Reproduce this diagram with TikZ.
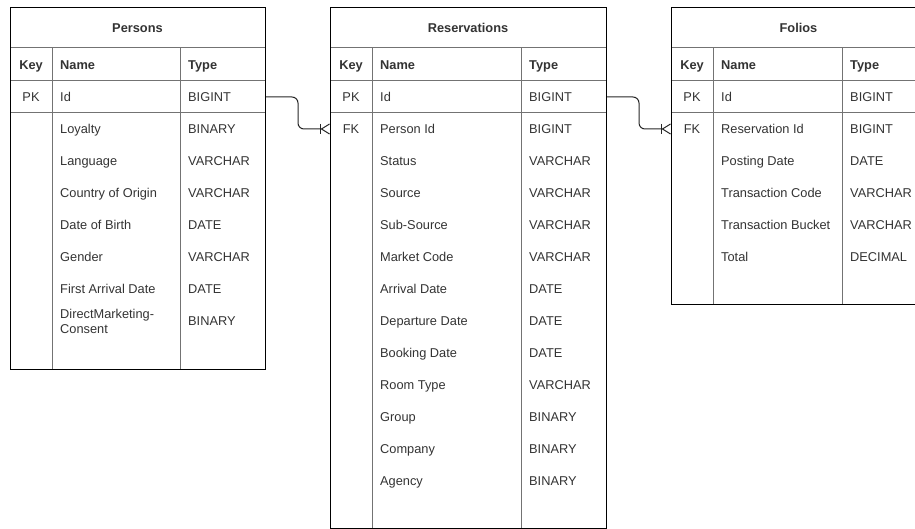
\documentclass[tikz,border=0pt]{standalone}
\usepackage{fontspec}
\setmainfont{Liberation Sans}
\usetikzlibrary{arrows.meta,positioning}

\begin{document}
\begin{tikzpicture}[x=1pt,y=-1pt,font=\fontsize{12.8}{15}\selectfont,
    every node/.style={inner sep=0pt,text=black!80,text height=9.2pt,text depth=0.8pt},
    tbl/.style={draw=black,line width=1pt,anchor=north west,text height=,text depth=},
    rule/.style={draw=black!55,line width=1pt},
    head/.style={font=\fontsize{12.8}{15}\selectfont\bfseries},
    fld/.style={anchor=west},
    fld2/.style={anchor=west,align=left,text height=,text depth=},
    conn/.style={draw=black!85,line width=1pt,rounded corners=6pt,
      -{Bar[width=10pt,sep=0pt] Straight Barb[reversed,length=8pt,width=10pt]}}]
      \path[use as bounding box,clip] (0,0) rectangle (915,529);

      %grid lines
      \draw[rule] (10,48) -- (265,48);
      \draw[rule] (10,81) -- (265,81);
      \draw[rule] (10,113) -- (265,113);
      \draw[rule] (52,48) -- (52,369);
      \draw[rule] (180,48) -- (180,369);

      \draw[rule] (330,48) -- (606,48);
      \draw[rule] (330,81) -- (606,81);
      \draw[rule] (330,113) -- (606,113);
      \draw[rule] (372,48) -- (372,528);
      \draw[rule] (521,48) -- (521,528);

      \draw[rule] (671,48) -- (926,48);
      \draw[rule] (671,81) -- (926,81);
      \draw[rule] (671,113) -- (926,113);
      \draw[rule] (713,48) -- (713,304);
      \draw[rule] (842,48) -- (842,304);

      %tables
      \node[tbl,minimum width=255pt,minimum height=362pt] (persons) at (10,7) {};
      \node[tbl,minimum width=276pt,minimum height=521pt] (reservations) at (330,7) {};
      \node[tbl,minimum width=255pt,minimum height=297pt] (folios) at (671,7) {};

      %Persons
      \node[head] (p-title) at (137.5,28) {Persons};
      \node[head] (p-key) at (31,65) {Key};
      \node[head,fld] (p-name) at (60,65) {Name};
      \node[head,fld] (p-type) at (188,65) {Type};
      \node (p-pk) at (31,97) {PK};
      \node[fld] (p-id) at (60,97) {Id};
      \node[fld] (p-id-t) at (188,97) {BIGINT};
      \node[fld] (p-loyalty) at (60,129) {Loyalty};
      \node[fld] (p-loyalty-t) at (188,129) {BINARY};
      \node[fld] (p-language) at (60,161) {Language};
      \node[fld] (p-language-t) at (188,161) {VARCHAR};
      \node[fld] (p-country) at (60,193) {Country of Origin};
      \node[fld] (p-country-t) at (188,193) {VARCHAR};
      \node[fld] (p-birth) at (60,225) {Date of Birth};
      \node[fld] (p-birth-t) at (188,225) {DATE};
      \node[fld] (p-gender) at (60,257) {Gender};
      \node[fld] (p-gender-t) at (188,257) {VARCHAR};
      \node[fld] (p-arrival) at (60,289) {First Arrival Date};
      \node[fld] (p-arrival-t) at (188,289) {DATE};
      \node[fld2] (p-consent) at (60,321) {DirectMarketing-\\Consent};
      \node[fld] (p-consent-t) at (188,321) {BINARY};

      %Reservations
      \node[head] (r-title) at (468,28) {Reservations};
      \node[head] (r-key) at (351,65) {Key};
      \node[head,fld] (r-name) at (380,65) {Name};
      \node[head,fld] (r-type) at (529,65) {Type};
      \node (r-pk) at (351,97) {PK};
      \node[fld] (r-id) at (380,97) {Id};
      \node[fld] (r-id-t) at (529,97) {BIGINT};
      \node (r-fk) at (351,129) {FK};
      \node[fld] (r-person) at (380,129) {Person Id};
      \node[fld] (r-person-t) at (529,129) {BIGINT};
      \node[fld] (r-status) at (380,161) {Status};
      \node[fld] (r-status-t) at (529,161) {VARCHAR};
      \node[fld] (r-source) at (380,193) {Source};
      \node[fld] (r-source-t) at (529,193) {VARCHAR};
      \node[fld] (r-subsource) at (380,225) {Sub-Source};
      \node[fld] (r-subsource-t) at (529,225) {VARCHAR};
      \node[fld] (r-market) at (380,257) {Market Code};
      \node[fld] (r-market-t) at (529,257) {VARCHAR};
      \node[fld] (r-arrival) at (380,289) {Arrival Date};
      \node[fld] (r-arrival-t) at (529,289) {DATE};
      \node[fld] (r-departure) at (380,321) {Departure Date};
      \node[fld] (r-departure-t) at (529,321) {DATE};
      \node[fld] (r-booking) at (380,353) {Booking Date};
      \node[fld] (r-booking-t) at (529,353) {DATE};
      \node[fld] (r-room) at (380,385) {Room Type};
      \node[fld] (r-room-t) at (529,385) {VARCHAR};
      \node[fld] (r-group) at (380,417) {Group};
      \node[fld] (r-group-t) at (529,417) {BINARY};
      \node[fld] (r-company) at (380,449) {Company};
      \node[fld] (r-company-t) at (529,449) {BINARY};
      \node[fld] (r-agency) at (380,481) {Agency};
      \node[fld] (r-agency-t) at (529,481) {BINARY};

      %Folios
      \node[head] (f-title) at (798.5,28) {Folios};
      \node[head] (f-key) at (692,65) {Key};
      \node[head,fld] (f-name) at (721,65) {Name};
      \node[head,fld] (f-type) at (850,65) {Type};
      \node (f-pk) at (692,97) {PK};
      \node[fld] (f-id) at (721,97) {Id};
      \node[fld] (f-id-t) at (850,97) {BIGINT};
      \node (f-fk) at (692,129) {FK};
      \node[fld] (f-reservation) at (721,129) {Reservation Id};
      \node[fld] (f-reservation-t) at (850,129) {BIGINT};
      \node[fld] (f-posting) at (721,161) {Posting Date};
      \node[fld] (f-posting-t) at (850,161) {DATE};
      \node[fld] (f-code) at (721,193) {Transaction Code};
      \node[fld] (f-code-t) at (850,193) {VARCHAR};
      \node[fld] (f-bucket) at (721,225) {Transaction Bucket};
      \node[fld] (f-bucket-t) at (850,225) {VARCHAR};
      \node[fld] (f-total) at (721,257) {Total};
      \node[fld] (f-total-t) at (850,257) {DECIMAL};

      %relations
      \draw[conn] (persons.east |- p-id) -- ++(32,0) |- (reservations.west |- r-person);
      \draw[conn] (reservations.east |- r-id) -- ++(32,0) |- (folios.west |- f-reservation);

    \end{tikzpicture}
\end{document}
